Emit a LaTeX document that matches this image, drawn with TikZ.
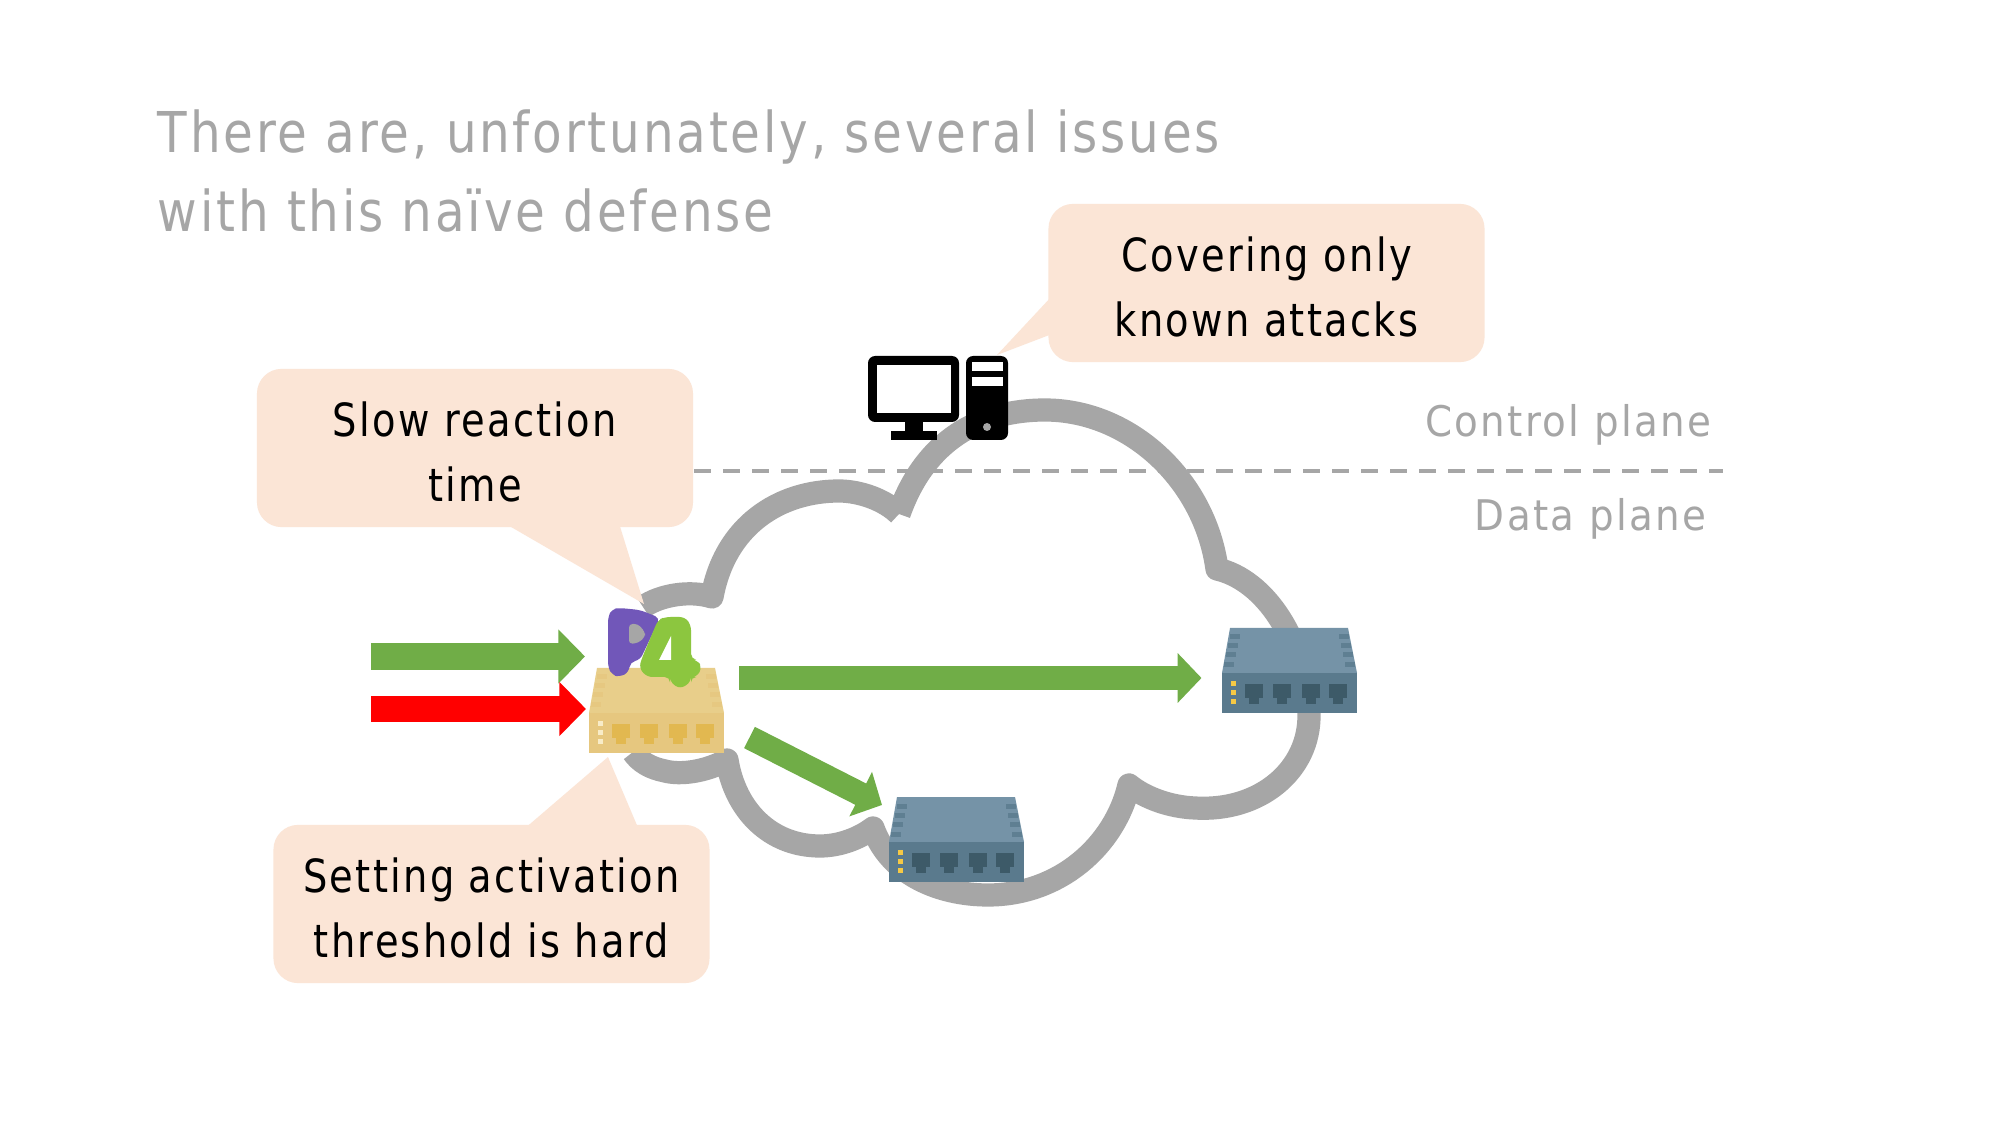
\documentclass[tikz,border=0pt]{standalone}
\usepackage{fontspec}
\setmainfont{DejaVu Sans}
\newfontfamily\titlefont{DejaVu Sans}[FakeStretch=.86,LetterSpace=5]
\newfontfamily\bubblefont{DejaVu Sans}[FakeStretch=.84,LetterSpace=5]
\newfontfamily\planefont{DejaVu Sans}[FakeStretch=.92,LetterSpace=5.5]
\usetikzlibrary{arrows.meta}
\definecolor{calloutfill}{HTML}{FBE5D6}
\definecolor{mutedgray}{HTML}{A6A6A6}
\definecolor{flowgreen}{HTML}{70AD47}
\definecolor{logopurple}{HTML}{7157B9}
\definecolor{logogreen}{HTML}{8CC63F}
\tikzset{
  callout/.style={fill=calloutfill,rounded corners=7pt,inner sep=0pt,minimum width=124pt,minimum height=45pt},
  callouttext/.style={inner sep=0pt,align=center,text=black,font=\bubblefont\fontsize{13}{18.5}\selectfont},
  tail/.style={fill=calloutfill},
  title/.style={anchor=base west,text=mutedgray,font=\titlefont\fontsize{16}{18}\selectfont,inner sep=0pt},
  planelabel/.style={anchor=base east,text=mutedgray,font=\planefont\fontsize{12}{14}\selectfont,inner sep=0pt},
  cloudline/.style={draw=mutedgray,line width=6.6pt,line join=round},
  flow/.style={-{Triangle[length=7.6pt,width=15pt,sep=0pt]},line width=7.5pt,draw=flowgreen},
  thinflow/.style={-{Triangle[length=6.8pt,width=13.8pt,sep=0pt]},line width=6.8pt,draw=flowgreen},
  attackflow/.style={flow,draw=red}
}
% One network switch; the origin is the back left of its bounding box.
\newcommand{\switchicon}[6]{%
  \begin{scope}[shift={(#1,#2)}]
    \definecolor{swtop}{HTML}{#3}\definecolor{swfront}{HTML}{#4}
    \definecolor{swport}{HTML}{#5}\definecolor{swled}{HTML}{#6}
    \fill[swtop] (8,0) -- (126,0) -- (135,45) -- (0,45) -- cycle;
    \fill[swfront] (0,45) rectangle (135,85);
    \foreach \yy/\dx in {9/8,18/6,27/4,37/2}{
      \fill[swfront,opacity=.8] (\dx,\yy-2.5) rectangle (\dx+10,\yy+2.5);
      \fill[swfront,opacity=.8] (135-\dx-10,\yy-2.5) rectangle (135-\dx,\yy+2.5);
    }
    \foreach \yy in {53,62,71}{\fill[swled] (9,\yy) rectangle (14,\yy+5);}
    \foreach \xx in {23,51,80,107}{
      \fill[swport] (\xx,56) rectangle (\xx+18,70);
      \fill[swport] (\xx+4,70) rectangle (\xx+14,76);
    }
  \end{scope}}
\begin{document}
\begin{tikzpicture}[x=0.01cm,y=-0.01cm]
\useasboundingbox (0,0) rectangle (2000,1125);
\fill[white] (0,0) rectangle (2000,1125);

% Cloud outline, lobe by lobe, clockwise from the top left dip
\draw[cloudline] (899,514) .. controls (925,440) and (980,410) .. (1045,410)
  .. controls (1130,410) and (1205,480) .. (1217,569)
  .. controls (1265,580) and (1305,640) .. (1309,714)
  .. controls (1310,770) and (1260,812) .. (1195,808)
  .. controls (1170,807) and (1145,798) .. (1129,785)
  .. controls (1115,845) and (1060,895) .. (988,895)
  .. controls (940,895) and (890,875) .. (873,828)
  .. controls (860,838) and (840,846) .. (820,846)
  .. controls (770,846) and (735,810) .. (727,760)
  .. controls (705,772) and (680,775) .. (665,771)
  .. controls (650,768) and (640,762) .. (633,752)
  (643,607) .. controls (660,595) and (690,590) .. (712,597)
  .. controls (725,525) and (780,491) .. (839,491)
  .. controls (860,491) and (885,500) .. (899,514);

% Boundary between the two planes
\coordinate (planeL) at (694,471);
\coordinate (planeR) at (1723,471);
\draw[mutedgray,line width=1.2pt,dash pattern=on 4.8pt off 3.45pt] (planeL) -- (planeR);
\node[planelabel] (controlLabel) at (1712,437) {Control plane};
\node[planelabel] (dataLabel) at (1707,531) {Data plane};

\node[title] (titleA) at (157,153) {There are, unfortunately, several issues};
\node[title] (titleB) at (157,232) {with this naïve defense};

% Callouts with their pointers
\fill[tail] (499,520) -- (644,604) -- (618,520) -- cycle;
\fill[tail] (523,830) -- (608,757) -- (639,830) -- cycle;
\fill[tail] (1052,296) -- (997,355) -- (1052,334) -- cycle;
\node[callout] (slow) at (475,448) {};
\node[callout] (threshold) at (491.5,904) {};
\node[callout] (covering) at (1266.5,283) {};
\node[callouttext] (slowText) at (475,452) {Slow reaction\\time};
\node[callouttext] (thresholdText) at (491.5,908) {Setting activation\\threshold is hard};
\node[callouttext] (coveringText) at (1266.5,287) {Covering only\\known attacks};

% Controller computer
\fill[black,rounded corners=2pt] (868,356) rectangle (959,422);
\fill[white] (877,365) rectangle (951,413);
\fill[black] (905,422) rectangle (923,431);
\fill[black] (891,431) rectangle (937,440);
\fill[black,rounded corners=2pt] (966,356) rectangle (1008,440);
\fill[white] (972,362) rectangle (1003,371);
\fill[white] (972,377) rectangle (1003,386);
\fill[mutedgray] (987,427) circle (4);

% Switches
\switchicon{1222}{628}{7593A7}{5A7A8D}{3D5A68}{F6C945}
\switchicon{889}{797}{7593A7}{5A7A8D}{3D5A68}{F6C945}
\switchicon{589}{668}{E8CE8A}{E6C77F}{E2B850}{F8ECC8}

% P4 logo on the edge switch
\fill[logopurple,rounded corners=1.5pt] (608,617) -- (612,609) -- (620,608) -- (640,610) -- (660,618) -- (640,660) -- (630,662) -- (629,672) -- (620,677) -- (612,675) -- (608,667) -- cycle;
\fill[mutedgray,rounded corners=1pt] (629,624) -- (638,624) -- (645,632) -- (645,637) -- (638,643) -- (629,644) -- cycle;
\fill[logogreen,rounded corners=1.5pt] (658,620) -- (665,617) -- (685,617) -- (691,625) -- (691,659) -- (697,660) -- (702,667) -- (697,677) -- (691,677) -- (691,682) -- (680,689) -- (670,682) -- (670,677) -- (647,677) -- (639,668) -- (642,658) -- cycle;
\fill[white] (671,636) -- (671,660) -- (659,660) -- cycle;

% Traffic
\coordinate (inGreenA) at (371,656.5);
\coordinate (inGreenB) at (585,656.5);
\coordinate (inRedA) at (371,709);
\coordinate (inRedB) at (586,709);
\coordinate (longA) at (739,678);
\coordinate (longB) at (1201.5,678);
\coordinate (diagA) at (749.5,737.5);
\coordinate (diagB) at (882,805);
\draw[flow] (inGreenA) -- (inGreenB);
\draw[attackflow] (inRedA) -- (inRedB);
\draw[thinflow] (longA) -- (longB);
\draw[thinflow] (diagA) -- (diagB);
\end{tikzpicture}
\end{document}
